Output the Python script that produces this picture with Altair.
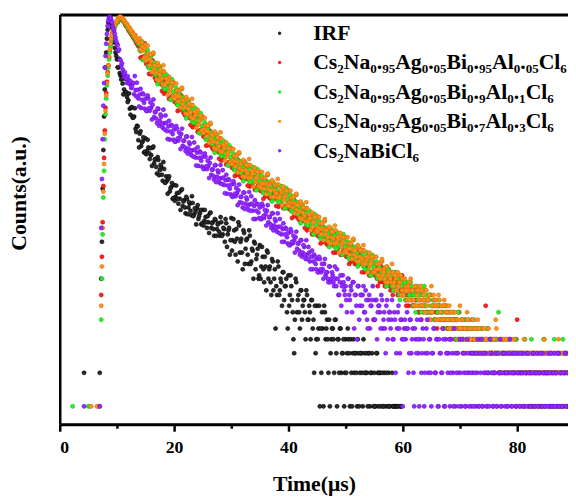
import altair as alt
import pandas as pd

# two interleaved sets of time channels (0.25 us apart, offset by 0.125 us), 360 each
STEP_US = 0.25
N_CH = 360
TIME_A = [i * STEP_US for i in range(N_CH)]
TIME_B = [i * STEP_US + STEP_US / 2 for i in range(N_CH)]

SERIES = [
    "IRF",
    "Cs₂Na₀.₉₅Ag₀.₀₅Bi₀.₉₅Al₀.₀₅Cl₆",
    "Cs₂Na₀.₉₅Ag₀.₀₅Bi₀.₉Al₀.₁Cl₆",
    "Cs₂Na₀.₉₅Ag₀.₀₅Bi₀.₇Al₀.₃Cl₆",
    "Cs₂NaBiCl₆",
]
FILL = ["#2b2b2b", "#ff2020", "#2af02a", "#ff9020", "#9030ff"]
EDGE = ["#000000", "#d00000", "#10c010", "#e07000", "#7000e0"]

# counts per channel, one line = 5 us (20 channels); 0 = empty channel
IRF_A = """
0 0 0 0 0 0 0 0 0 0 0 0 0 0 0 0 0 2 0 0
0 0 0 0 0 0 0 0 2 14 90 400 1100 2000 2800 3150 2700 2250 1850 1500
1300 1100 980 860 790 700 660 600 560 470 480 390 400 310 330 245 280 217 239 190
254 196 211 166 180 210 152 165 123 163 132 141 106 135 102 106 110 85 93 73
97 76 82 66 73 87 63 71 54 73 61 66 52 67 53 56 60 48 54 43
58 46 50 40 45 54 40 45 34 47 39 44 34 45 35 39 48 27 38 23
49 31 38 23 32 45 24 32 17 36 26 32 19 34 20 25 30 17 23 14
28 18 22 13 18 25 14 18 10 20 14 5 10 18 11 13 16 9 12 7
15 10 12 7 3 14 7 10 5 11 8 9 4 10 6 7 9 5 2 3
8 5 1 2 5 8 4 6 2 1 4 5 2 6 1 4 5 2 3 1
4 3 4 1 2 3 2 3 1 3 2 3 1 3 2 2 3 1 2 0
2 1 3 1 2 0 1 2 1 0 2 1 0 1 1 1 1 0 1 1
0 0 0 0 0 0 0 0 0 0 0 0 0 0 0 0 0 0 0 0
0 0 0 0 0 0 0 0 0 0 0 0 0 0 0 0 0 0 0 0
0 0 0 0 0 0 0 0 0 0 0 0 0 0 0 0 0 0 0 0
0 0 0 0 0 0 0 0 0 0 0 0 0 0 0 0 0 0 0 0
0 0 0 0 0 0 0 0 0 0 0 0 0 0 0 0 0 0 0 0
0 0 0 0 0 0 0 0 0 0 0 0 0 0 0 0 0 0 0 0
"""
IRF_B = """
0 0 0 0 0 0 0 0 0 0 0 0 0 0 0 0 0 0 0 0
0 0 0 0 0 0 0 0 0 30 200 700 1500 2400 3000 3050 2500 2050 1650 1400
1105 1320 931 946 632 875 660 540 644 415 486 391 474 290 326 211 295 234 260 193
183 247 187 208 144 215 165 141 173 119 147 120 156 102 116 81 116 91 101 74
70 96 73 83 58 89 69 61 76 53 68 57 77 51 60 43 64 51 58 44
42 58 45 51 36 55 44 39 48 34 43 37 50 34 40 30 44 35 40 31
25 48 30 39 20 42 30 24 38 19 31 23 38 19 26 14 29 21 26 15
14 27 17 22 11 24 17 13 21 11 17 12 20 10 14 8 16 12 14 5
8 15 9 4 6 13 9 7 11 6 9 7 11 6 8 4 9 6 8 4
4 8 5 7 1 7 5 4 6 3 5 4 6 3 4 2 5 3 4 2
2 5 3 4 1 4 3 2 4 1 3 2 4 2 3 1 3 2 3 1
1 3 2 2 1 2 1 0 2 1 1 0 2 1 0 1 1 0 1 0
0 0 0 0 0 0 0 0 0 0 0 0 0 0 0 0 0 0 0 0
0 0 0 0 0 0 0 0 0 0 0 0 0 0 0 0 0 0 0 0
0 0 0 0 0 0 0 0 0 0 0 0 0 0 0 0 0 0 0 0
0 0 0 0 0 0 0 0 0 0 0 0 0 0 0 0 0 0 0 0
0 0 0 0 0 0 0 0 0 0 0 0 0 0 0 0 0 0 0 0
0 0 0 0 0 0 0 0 0 0 0 0 0 0 0 0 0 0 0 0
"""

AL005_A = """
0 0 0 0 0 0 0 0 0 0 0 0 0 0 0 0 0 0 0 0
0 0 0 0 0 0 0 1 0 10 45 170 480 820 1150 1550 1950 2250 2500 2700
2850 3000 3100 3050 2950 2800 2650 2550 2400 2300 2200 2100 2000 1900 1800 1720 1766 1351 1723 1318
1377 1452 1114 1214 956 1274 983 1059 832 909 1071 778 851 642 857 698 755 585 757 588
624 665 518 575 459 616 479 520 412 452 533 387 425 321 431 354 383 294 378 291
308 327 253 279 222 298 233 254 202 222 264 192 213 161 216 179 194 150 194 151
161 171 134 149 120 162 127 141 112 125 149 110 123 94 127 106 116 90 118 92
99 107 84 95 77 104 83 91 74 82 98 73 81 62 85 71 78 61 80 63
68 73 57 64 51 69 54 60 48 52 62 46 50 38 51 42 46 36 47 37
39 42 33 37 30 40 32 36 29 32 38 28 31 24 33 27 30 23 31 24
26 28 22 25 20 27 21 24 19 21 25 19 21 16 22 18 20 15 20 16
17 18 14 16 13 18 14 15 12 14 17 12 14 10 14 12 13 10 14 10
11 12 9 10 8 12 9 10 8 9 11 7 9 6 10 8 9 7 9 6
7 8 6 7 5 8 6 7 5 6 8 5 6 4 6 5 6 4 6 4
5 5 4 5 3 5 4 5 3 4 5 3 4 3 4 3 4 3 8 3
3 4 3 3 2 4 3 3 2 3 4 2 3 2 3 3 3 2 3 2
6 3 2 3 1 3 2 3 2 2 3 1 2 2 3 2 2 3 2 1
3 2 2 3 1 2 3 2 1 2 3 2 1 2 3 2 1 2 3 2
"""
AL005_B = """
0 0 0 0 0 0 0 0 0 0 0 0 0 0 0 0 0 0 0 0
0 0 0 0 0 0 0 0 0 22 95 300 650 1000 1350 1750 2100 2380 2600 2780
2800 2950 3000 2950 2850 2750 2600 2480 2350 2250 2150 2050 1960 1850 1760 1690 1345 1677 1381 1814
1188 1361 965 1391 1091 1210 890 842 1134 864 965 677 1013 783 676 828 575 726 607 809
539 624 449 658 524 585 433 413 562 429 480 336 506 392 340 419 291 365 303 401
265 306 219 320 253 283 211 202 275 211 238 167 253 196 171 212 148 187 156 209
139 161 117 171 137 154 115 112 153 119 135 96 146 114 100 125 88 112 95 127
86 100 73 108 87 99 75 73 100 78 89 63 97 76 67 84 60 76 64 87
59 68 49 73 58 66 49 47 65 50 56 40 60 46 41 50 35 45 38 51
34 40 29 42 34 38 29 28 39 30 34 24 37 29 26 32 23 29 25 33
22 26 19 28 23 26 19 19 26 20 23 16 25 19 17 21 15 19 16 22
15 17 12 18 15 17 13 12 17 13 15 11 16 13 11 14 10 13 11 15
10 11 8 12 10 11 8 8 11 9 10 7 11 8 7 9 7 9 7 10
7 8 6 8 7 8 6 6 8 6 7 5 7 6 5 6 4 6 5 7
4 5 4 6 5 5 4 4 6 4 5 3 5 4 3 5 3 4 4 5
3 4 3 4 3 4 3 2 4 3 3 2 4 3 2 3 2 3 3 4
2 3 2 3 2 3 2 2 3 2 3 1 3 2 2 3 1 2 2 3
2 2 1 3 2 2 1 2 3 2 2 1 3 2 1 2 1 2 2 3
"""

AL01_A = """
0 0 0 0 0 0 0 0 0 1 0 0 0 0 0 0 0 0 0 0
1 1 0 0 0 0 0 0 0 6 35 130 420 760 1100 1500 1900 2200 2450 2650
2800 2950 3050 3050 2950 2800 2700 2550 2450 2350 2250 2150 2050 1950 1870 1790 1573 1722 1285 1706
1383 1492 1137 1444 1105 1163 1224 941 1028 816 1093 849 915 727 793 927 673 746 565 760
627 684 529 683 530 562 596 462 509 406 544 422 458 364 399 469 341 375 282 377
309 336 258 332 256 272 289 226 250 200 269 209 229 182 200 238 173 192 145 196
161 176 137 177 139 148 159 125 139 112 152 120 132 106 118 140 103 115 88 119
100 110 86 112 88 95 103 81 91 74 100 79 87 71 79 94 70 78 60 82
68 75 58 76 59 63 68 53 59 47 63 50 54 43 48 56 41 46 35 48
40 44 34 44 34 37 40 32 35 28 39 31 34 27 30 36 27 30 23 31
26 28 22 29 23 25 27 21 23 19 26 20 22 18 20 24 17 20 15 20
17 19 15 19 15 16 17 14 15 12 17 13 15 12 13 16 11 14 9 14
10 13 9 13 9 10 12 8 10 7 12 8 10 7 9 12 8 10 6 10
7 9 6 9 6 7 8 6 7 5 8 6 6 5 6 7 5 6 4 7
5 6 4 6 4 5 6 4 5 3 6 4 4 3 4 5 3 4 3 5
3 4 2 4 3 3 4 7 3 2 4 3 3 2 4 4 2 3 2 4
3 3 2 3 2 4 3 2 3 2 4 2 3 2 3 2 2 3 1 4
2 3 2 2 3 1 4 2 3 2 1 3 4 2 2 3 1 3 2 4
"""
AL01_B = """
0 0 0 0 0 0 0 0 0 0 0 0 0 0 0 0 0 0 0 0
0 0 0 0 0 0 0 0 0 14 75 250 580 930 1300 1700 2050 2330 2550 2730
2850 3000 3050 3000 2900 2780 2680 2560 2420 2330 2240 2130 2030 1950 1870 1790 1540 1890 1300 1620
1283 1574 1085 1344 1105 1459 961 1098 778 1132 899 1000 735 703 952 722 805 568 861 667
581 721 505 636 530 705 468 539 385 563 447 497 368 351 479 366 408 286 430 331
286 354 246 309 256 342 227 263 189 277 221 247 184 176 241 185 207 146 221 172
150 186 131 165 139 186 125 146 105 156 125 142 106 103 141 109 123 87 134 105
92 116 82 105 88 119 81 95 69 102 83 94 70 68 95 74 84 60 91 72
63 79 56 71 59 79 53 62 44 65 52 59 43 42 57 44 49 35 53 42
37 46 32 41 34 46 31 37 27 39 32 36 27 26 36 28 32 23 35 27
24 30 21 27 23 31 21 24 18 26 21 24 18 17 24 19 21 15 23 18
16 20 14 18 15 20 14 16 12 17 14 16 12 11 16 12 14 10 15 12
10 13 9 12 10 13 9 10 8 11 9 10 8 8 11 8 9 7 10 8
7 9 6 8 7 9 6 7 5 8 6 7 5 5 7 6 6 4 7 5
5 6 4 5 4 6 4 5 3 5 4 5 3 3 5 4 4 3 5 4
3 4 3 4 3 4 3 3 2 4 3 4 2 3 4 3 3 2 4 3
2 3 2 3 2 4 2 3 1 3 2 3 2 2 3 2 3 1 4 2
2 3 1 3 2 3 2 2 1 3 2 3 2 1 3 2 2 1 3 2
"""

AL03_A = """
0 0 0 0 0 0 0 0 0 0 0 0 0 0 0 0 0 0 0 0
0 0 1 0 0 0 1 0 1 8 40 150 450 800 1150 1600 2000 2300 2550 2750
2900 3050 3150 3100 3000 2950 2750 2700 2500 2500 2300 2300 2100 2150 1900 1950 2016 1553 1700 1339
1770 1368 1471 1153 1250 1464 1058 1155 861 1151 946 1025 783 1009 777 816 862 672 747 597
802 627 685 546 600 708 515 567 426 572 470 509 392 505 391 413 437 338 373 296
395 308 334 265 290 343 250 277 209 282 233 253 196 253 196 209 222 173 192 154
207 162 178 142 157 187 137 153 116 158 132 145 113 147 115 123 132 104 116 94
127 101 111 90 100 120 89 100 76 104 87 96 75 98 77 83 90 71 79 64
87 68 75 61 67 79 58 65 49 66 55 60 46 60 47 49 53 41 46 37
51 40 44 35 39 46 35 39 30 40 33 37 29 38 30 32 34 27 30 24
33 26 29 23 26 31 23 26 20 27 22 25 19 25 20 21 22 18 20 16
22 17 19 15 17 20 15 17 13 18 15 16 13 16 13 14 15 12 13 10
14 11 12 9 11 13 9 11 8 12 10 11 8 11 9 9 11 8 9 6
12 8 9 6 8 10 6 8 5 9 7 8 5 7 6 6 7 5 6 4
8 5 6 3 5 7 4 5 3 6 4 5 3 5 4 4 5 3 4 2
5 3 4 2 3 6 3 4 2 4 3 4 2 3 4 3 3 2 4 1
3 2 3 1 2 4 2 3 1 3 2 3 1 2 3 2 3 1 2 4
2 3 1 2 3 2 1 3 2 4 1 2 3 2 1 3 2 1 3 2
"""
AL03_B = """
0 0 0 0 0 0 0 0 0 0 0 0 0 0 0 0 0 0 0 0
0 0 0 0 0 0 0 0 0 18 85 280 620 980 1380 1800 2150 2450 2650 2850
2980 3100 3150 3050 2950 2850 2750 2620 2500 2400 2300 2200 2100 2000 1920 1830 1600 1850 1560 1640
1275 1728 1306 1441 1000 1500 1150 990 1208 838 1053 874 1152 766 877 624 909 725 812 604
578 792 608 682 480 725 560 486 598 417 524 434 576 383 441 316 460 365 405 299
285 389 296 331 232 351 272 238 293 205 259 216 288 192 222 160 234 186 208 156
149 204 158 177 126 191 149 131 163 115 147 124 166 112 130 94 139 112 127 95
92 127 99 112 80 123 97 86 107 76 97 82 110 74 87 64 94 76 86 65
63 86 67 76 54 81 64 56 69 48 61 51 68 45 53 38 55 45 50 38
37 50 39 44 31 48 38 33 41 29 37 32 42 29 33 24 36 29 33 25
24 33 26 29 21 32 25 22 28 20 25 21 28 19 22 16 24 19 22 16
16 22 17 19 14 21 16 14 18 13 16 14 19 12 15 11 16 13 15 11
10 14 11 12 9 14 11 9 12 8 11 9 12 8 10 7 11 9 10 7
7 10 8 9 6 9 7 6 8 6 7 6 8 5 7 5 7 6 6 5
5 6 4 5 4 6 5 4 5 3 5 4 6 3 4 3 5 4 4 3
3 4 3 4 3 5 3 2 4 2 3 3 4 2 3 2 4 3 3 2
2 3 2 3 1 3 2 2 3 1 2 2 3 2 3 1 3 2 3 2
2 3 2 2 1 3 2 1 3 2 2 1 3 2 2 1 3 2 2 3
"""

BICL_A = """
0 0 0 0 0 0 0 0 0 0 0 0 0 0 0 0 0 1 0 0
0 0 0 0 0 0 0 0 1 40 250 800 1400 2200 2900 3150 2950 2600 2350 2050
1800 1550 1300 1150 1060 900 930 800 860 780 720 790 634 690 805 580 630 477 644 531
578 448 580 451 479 510 396 438 349 468 366 398 317 347 409 296 326 248 336 278
305 238 310 243 260 279 218 243 196 264 206 226 180 199 234 171 189 144 194 160
174 135 174 135 143 153 120 134 108 146 115 126 101 112 132 97 107 81 109 90
98 76 99 77 82 87 68 76 61 83 66 72 58 65 77 57 63 48 66 55
61 48 63 49 53 57 45 50 40 54 42 46 37 41 48 35 39 30 40 33
36 28 37 29 31 33 26 29 23 31 24 27 21 23 27 20 22 17 23 19
21 16 21 16 17 19 15 16 13 18 14 15 12 14 17 10 13 8 15 11
12 7 14 9 11 13 5 10 4 12 8 10 10 7 11 6 9 5 8 12
6 9 4 8 7 10 5 7 3 9 6 7 6 4 7 2 5 8 3 6
1 5 4 7 2 6 3 5 1 4 6 3 4 2 5 1 3 6 2 4
1 3 5 2 4 1 3 2 5 1 4 3 3 1 4 2 5 1 3 2
4 1 3 2 1 4 2 3 1 2 3 1 2 1 3 4 1 2 3 1
2 4 3 1 2 3 1 2 4 1 3 2 3 1 2 4 1 3 2 1
3 2 1 2 3 1 2 3 1 2 1 3 2 1 3 1 2 1 3 2
1 2 3 1 2 1 3 2 1 3 1 2 1 2 3 1 2 1 3 2
"""
BICL_B = """
0 0 0 0 0 0 0 0 0 0 0 0 0 0 0 0 0 0 0 0
0 0 0 0 0 0 0 0 0 110 500 1100 1800 2600 3100 3050 2800 2450 2200 1900
1750 1600 1280 1200 980 1000 880 920 800 830 740 800 922 607 693 491 708 565 633 470
451 618 475 534 376 569 440 383 472 330 416 346 461 305 352 251 366 293 330 247
238 329 254 287 204 311 242 212 265 186 234 196 262 175 202 145 212 170 190 142
136 186 143 160 112 171 133 117 146 103 131 110 147 99 113 82 120 96 108 80
77 105 81 91 64 98 76 67 83 59 75 63 84 57 66 48 71 57 65 49
48 66 51 58 42 64 50 43 54 38 48 40 54 36 41 30 44 35 39 29
28 39 30 34 24 37 29 25 31 22 28 23 31 21 24 17 25 20 22 17
16 22 17 19 14 21 16 14 18 13 16 13 18 12 14 10 15 12 13 10
9 14 10 12 7 13 10 8 12 6 10 8 12 7 9 5 10 8 9 6
6 9 7 8 5 9 6 5 8 4 7 5 9 4 6 3 7 5 6 4
4 6 5 5 3 6 4 2 5 3 4 1 6 3 4 2 5 3 4 2
3 5 2 4 1 4 3 2 4 1 3 2 4 2 3 1 3 2 3 1
2 4 3 1 2 3 1 2 3 1 2 3 4 1 2 1 3 2 1 2
1 3 2 1 2 1 3 2 1 2 3 1 2 1 3 2 1 2 3 1
2 1 3 2 1 2 1 3 2 1 2 3 1 2 1 2 3 1 2 1
2 1 2 3 1 2 1 2 3 1 2 1 2 3 1 2 1 2 1 3
"""


def parse(block):
    vals = [int(v) for v in block.split()]
    assert len(vals) == N_CH, len(vals)
    return vals


COUNTS = [
    (parse(IRF_A), parse(IRF_B)),
    (parse(AL005_A), parse(AL005_B)),
    (parse(AL01_A), parse(AL01_B)),
    (parse(AL03_A), parse(AL03_B)),
    (parse(BICL_A), parse(BICL_B)),
]

rows = []
for k, (name, (ca, cb)) in enumerate(zip(SERIES, COUNTS)):
    for times, counts in ((TIME_A, ca), (TIME_B, cb)):
        for t, c in zip(times, counts):
            if c > 0:
                rows.append({"t": t, "c": c, "series": name, "k": k})
df = pd.DataFrame(rows)

FONT = "Liberation Serif"
x_scale = alt.Scale(domain=[0, 88.9], nice=False, zero=False)
y_scale = alt.Scale(type="log", domain=[0.69, 3296], nice=False)

points = alt.Chart(df).mark_circle(size=17, opacity=1, strokeWidth=0.6, clip=True).encode(
    x=alt.X(
        "t:Q",
        scale=x_scale,
        axis=alt.Axis(
            orient="bottom", values=[0, 20, 40, 60, 80], tickSize=7, tickWidth=2.5,
            domainWidth=3, labelFontSize=18, labelPadding=8, grid=False,
            title="Time(μs)", titleFontSize=22, titleY=60, titleBaseline="middle",
        ),
    ),
    y=alt.Y(
        "c:Q",
        scale=y_scale,
        axis=alt.Axis(
            orient="left", ticks=False, labels=False, domainWidth=2.5, grid=False,
            title="Counts(a.u.)", titleFontSize=22, titleX=-42, titleY=181,
            titleAlign="center", titleBaseline="middle",
        ),
    ),
    fill=alt.Fill(
        "series:N",
        scale=alt.Scale(domain=SERIES, range=FILL),
        legend=alt.Legend(
            title=None, orient="none", legendX=212, legendY=8, direction="vertical",
            labelFont=FONT, labelFontSize=22, labelFontWeight="bold", labelColor="black",
            labelOffset=23, labelLimit=600, symbolType="circle", symbolSize=12,
            symbolStrokeWidth=0, rowPadding=7.8, padding=0,
        ),
    ),
    stroke=alt.Stroke("series:N", scale=alt.Scale(domain=SERIES, range=EDGE), legend=None),
    order=alt.Order("k:Q"),
)

minor = alt.Chart(df).transform_filter("datum.c >= 3150").mark_point(opacity=0).encode(
    x=alt.X(
        "t:Q",
        scale=x_scale,
        axis=alt.Axis(
            orient="bottom", values=[10, 30, 50, 70], tickSize=4, tickWidth=2.5,
            labels=False, domain=False, grid=False, title=None,
        ),
    ),
    y=alt.Y("c:Q", scale=y_scale, axis=None),
)

top = alt.Chart(df).transform_filter("datum.c >= 3150").mark_point(opacity=0).encode(
    x=alt.X(
        "t:Q",
        scale=x_scale,
        axis=alt.Axis(
            orient="top", ticks=False, labels=False, domainWidth=3, grid=False, title=None,
        ),
    ),
    y=alt.Y("c:Q", scale=y_scale, axis=None),
)

chart = (
    alt.layer(points, minor, top)
    .resolve_axis(x="independent", y="independent")
    .properties(
        width=515.5,
        height=415.7,
        padding={"left": 52.5, "top": 3, "right": 0, "bottom": 80},
        autosize=alt.AutoSizeParams(type="none"),
        background="white",
    )
    .configure_view(stroke=None)
    .configure_axis(
        labelFont=FONT, titleFont=FONT, labelFontWeight="bold", titleFontWeight="bold",
        labelColor="black", titleColor="black", domainColor="black", tickColor="black",
    )
)

chart.save("out.html", embed_options={"renderer": "svg", "actions": False})
